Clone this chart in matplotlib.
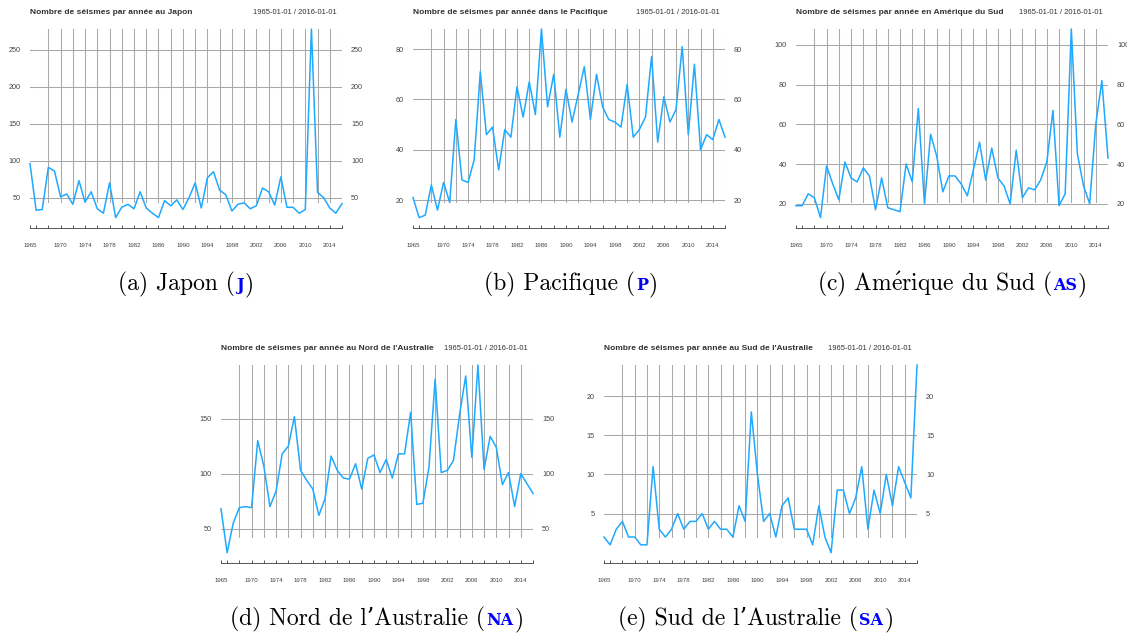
import numpy as np
import matplotlib
matplotlib.use("Agg")
import matplotlib.pyplot as plt

plt.rcParams["mathtext.fontset"] = "cm"

# ── Data ──────────────────────────────────────────────────────────────────────
years = list(range(1965, 2017))

japon = [96, 33, 34, 91, 86, 51, 55, 41, 73, 44, 58, 35, 29, 70, 23, 37, 41, 35,
         58, 36, 29, 23, 46, 39, 47, 34, 50, 70, 36, 77, 85, 60, 54, 32, 41, 43,
         35, 39, 63, 58, 40, 78, 37, 37, 29, 34, 278, 57, 50, 36, 29, 42]

pacifique = [21, 13, 14, 26, 16, 27, 19, 52, 28, 27, 36, 71, 46, 49, 32, 48, 45,
             65, 53, 67, 54, 88, 57, 70, 45, 64, 51, 62, 73, 52, 70, 57, 52, 51,
             49, 66, 45, 48, 53, 77, 43, 61, 51, 56, 81, 46, 74, 40, 46, 44, 52, 45]

amerique_sud = [19, 19, 25, 23, 13, 39, 30, 22, 41, 33, 31, 38, 34, 17, 33, 18, 17,
                16, 40, 31, 68, 20, 55, 44, 26, 34, 34, 30, 24, 37, 51, 32, 48, 33,
                29, 20, 47, 23, 28, 27, 32, 41, 67, 19, 25, 108, 45, 29, 20, 60, 82, 43]

nord_australie = [68, 28, 55, 69, 70, 69, 130, 107, 70, 84, 118, 125, 152, 103, 94,
                  86, 62, 77, 116, 103, 96, 95, 109, 86, 114, 117, 101, 113, 96, 118,
                  118, 156, 72, 73, 106, 186, 101, 103, 112, 154, 189, 115, 199, 104,
                  134, 124, 90, 101, 70, 100, 91, 82]

sud_australie = [2, 1, 3, 4, 2, 2, 1, 1, 11, 3, 2, 3, 5, 3, 4, 4, 5, 3, 4, 3, 3, 2,
                 6, 4, 18, 10, 4, 5, 2, 6, 7, 3, 3, 3, 1, 6, 2, 0, 8, 8, 5, 7, 11, 3,
                 8, 5, 10, 6, 11, 9, 7, 24]

titles = [
    "Nombre de séismes par année au Japon",
    "Nombre de séismes par année dans le Pacifique",
    "Nombre de séismes par année en Amérique du Sud",
    "Nombre de séismes par année au Nord de l'Australie",
    "Nombre de séismes par année au Sud de l'Australie",
]
# captions: the accented e goes through mathtext (cm) since cmr10 lacks it
captions = ["(a) Japon (", "(b) Pacifique (", r"(c) Am$\mathrm{\acute{e}}$rique du Sud (",
            "(d) Nord de l\u2019Australie (", "(e) Sud de l\u2019Australie ("]
codes = ["J", "P", "AS", "NA", "SA"]
yticks = [
    [50, 100, 150, 200, 250],
    [20, 40, 60, 80],
    [20, 40, 60, 80, 100],
    [50, 100, 150],
    [5, 10, 15, 20],
]
series = [japon, pacifique, amerique_sud, nord_australie, sud_australie]
date_range = "1965-01-01 / 2016-01-01"
label_years = [1965, 1970, 1974, 1978, 1982, 1986, 1990, 1994, 1998, 2002,
               2006, 2010, 2014]

# ── Layout (pixels) ───────────────────────────────────────────────────────────
W, H = 1127, 633
# (x_left, x_right, y_top, y_bottom) of each data panel
boxes = [
    (30, 342, 29, 228),
    (413, 725, 29, 228),
    (796, 1108, 29, 228),
    (221, 533, 365, 563),
    (604, 917, 365, 563),
]
# caption centre x and baseline y
caption_pos = [(186, 290), (571, 290), (952, 290), (377, 625), (756, 625)]

LINE_COL = "#1fa9ff"
GRID_COL = "#a8a8a8"
SANS = "Liberation Sans"

fig = plt.figure(figsize=(W / 100, H / 100), dpi=100)

for k, (vals, box) in enumerate(zip(series, boxes)):
    x0, x1, yt, yb = box
    ax = fig.add_axes([x0 / W, 1 - yb / H, (x1 - x0) / W, (yb - yt) / H])
    vmin, vmax = min(vals), max(vals)
    ax.set_xlim(years[0], years[-1])
    ax.set_ylim(vmin - 0.055 * (vmax - vmin), vmax)

    for yv in yticks[k]:
        ax.axhline(yv, color=GRID_COL, lw=0.75, zorder=1)
    for xv in range(1968, 2017, 2):
        ax.axvline(xv, ymin=0.13, ymax=1, color=GRID_COL, lw=0.75, zorder=1)

    ax.plot(years, vals, color=LINE_COL, lw=1.1, zorder=3, clip_on=False)

    for s in ["top", "left", "right"]:
        ax.spines[s].set_visible(False)
    ax.spines["bottom"].set_color("#555555")
    ax.spines["bottom"].set_linewidth(0.7)

    ax.set_yticks(yticks[k])
    ax.set_yticklabels([str(v) for v in yticks[k]], family=SANS, fontsize=5.2,
                       color="#444444")
    ax.tick_params(axis="y", length=0, pad=6.5, labelright=True)

    xt = [1965] + list(range(1966, 2017, 2))
    ax.set_xticks(xt)
    ax.set_xticklabels([str(t) if t in label_years else "" for t in xt],
                       family=SANS, fontsize=4.4, color="#444444")
    ax.tick_params(axis="x", direction="in", length=2.5, width=0.7,
                   color="#555555", pad=11)

    ty = 1 + 16 / (yb - yt)
    ax.text(0, ty, titles[k], transform=ax.transAxes, family=SANS,
            fontweight="bold", fontsize=6.0, color="#333333", va="center", ha="left")
    ax.text(1 - 5 / (x1 - x0), ty, date_range, transform=ax.transAxes,
            family=SANS, fontsize=5.5, color="#333333", va="center", ha="right")

# ── Captions: serif text with a blue bold small-caps code ─────────────────────
renderer = fig.canvas.get_renderer()
for (cx, cy), cap, code in zip(caption_pos, captions, codes):
    yf = 1 - cy / H
    t1 = fig.text(0, yf, cap, family=["cmr10", "DejaVu Serif"], fontsize=17,
                  va="baseline", ha="left")
    t2 = fig.text(0, yf, code, family="DejaVu Serif", fontweight="bold",
                  fontsize=11.5, color="#0000ff", va="baseline", ha="left")
    t3 = fig.text(0, yf, ")", family=["cmr10", "DejaVu Serif"], fontsize=17,
                  va="baseline", ha="left")
    w1 = t1.get_window_extent(renderer).width
    w2 = t2.get_window_extent(renderer).width
    w3 = t3.get_window_extent(renderer).width
    gap = 1
    start = cx - (w1 + w2 + w3 + 2 * gap) / 2
    t1.set_x(start / W)
    t2.set_x((start + w1 + gap) / W)
    t3.set_x((start + w1 + w2 + 2 * gap) / W)

fig.savefig("out.png", dpi=100)
